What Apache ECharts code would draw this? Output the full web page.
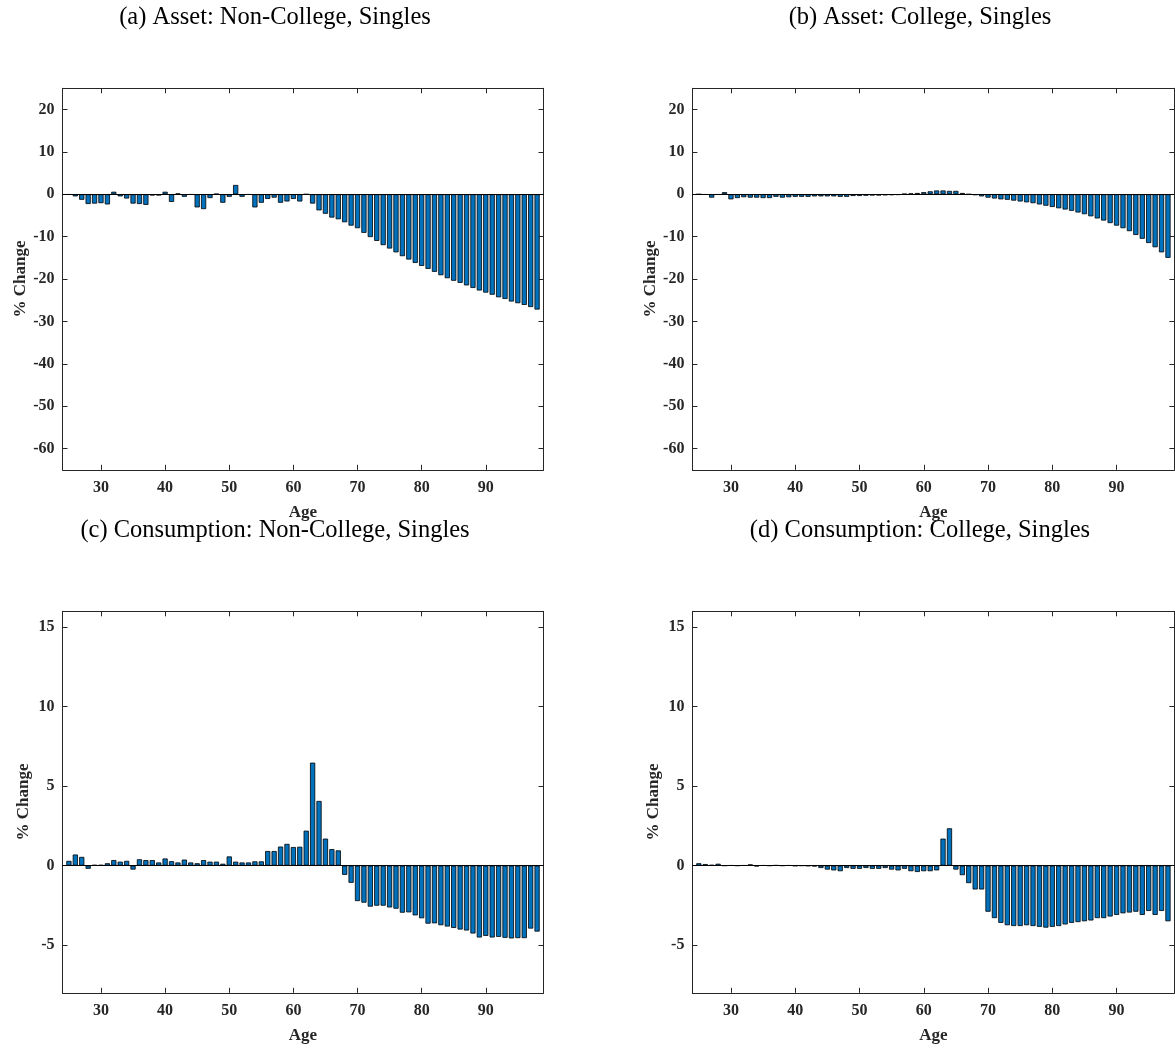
<!DOCTYPE html>
<html>
<head>
<meta charset="utf-8">
<script src="https://cdn.jsdelivr.net/npm/echarts@6/dist/echarts.min.js"></script>
<style>
  html, body { margin: 0; padding: 0; background: #fff; }
  #chart { width: 1175px; height: 1048px; }
</style>
</head>
<body>
<div id="chart"></div>
<script>
// Age of the household head (one bar per year of age)
const ages = [25, 26, 27, 28, 29, 30, 31, 32, 33, 34, 35, 36, 37, 38, 39, 40, 41, 42, 43, 44,
              45, 46, 47, 48, 49, 50, 51, 52, 53, 54, 55, 56, 57, 58, 59, 60, 61, 62, 63, 64,
              65, 66, 67, 68, 69, 70, 71, 72, 73, 74, 75, 76, 77, 78, 79, 80, 81, 82, 83, 84,
              85, 86, 87, 88, 89, 90, 91, 92, 93, 94, 95, 96, 97, 98];

// % change in assets, non-college singles
const assetNonCollege = [-0.1, -0.5, -1.3, -2.3, -2.2, -2.1, -2.4, 0.6, -0.5, -1.0,
  -2.2, -2.3, -2.5, -0.3, -0.3, 0.6, -1.8, 0.2, -0.6, -0.1,
  -3.1, -3.5, -0.9, 0.1, -2.0, -0.6, 2.2, -0.6, -0.1, -3.1,
  -2.0, -1.1, -0.8, -2.0, -1.7, -1.1, -1.7, 0.0, -2.2, -3.8,
  -4.6, -5.5, -5.9, -6.6, -7.4, -8.0, -9.1, -10.1, -11.0, -12.0,
  -12.8, -13.7, -14.6, -15.4, -16.2, -16.9, -17.6, -18.3, -19.1, -19.8,
  -20.4, -20.9, -21.5, -22.1, -22.7, -23.2, -23.7, -24.3, -24.7, -25.3,
  -25.7, -26.1, -26.6, -27.2];

// % change in assets, college singles
const assetCollege = [0.0, -0.1, -0.8, -0.1, 0.5, -1.2, -0.9, -0.7, -0.8, -0.8,
  -0.9, -0.9, -0.6, -0.8, -0.7, -0.6, -0.6, -0.6, -0.5, -0.5,
  -0.5, -0.5, -0.6, -0.6, -0.4, -0.4, -0.35, -0.3, -0.3, -0.25,
  -0.2, -0.15, 0.1, 0.2, 0.3, 0.5, 0.7, 0.9, 0.9, 0.8,
  0.8, 0.3, 0.0, -0.2, -0.5, -0.8, -1.0, -1.2, -1.3, -1.5,
  -1.7, -1.9, -2.1, -2.4, -2.7, -3.0, -3.3, -3.6, -3.9, -4.3,
  -4.7, -5.2, -5.7, -6.2, -6.8, -7.4, -8.0, -8.7, -9.6, -10.5,
  -11.5, -12.5, -13.7, -15.0];

// % change in consumption, non-college singles
const consNonCollege = [0.3, 0.7, 0.55, -0.2, 0.05, 0.05, 0.15, 0.35, 0.25, 0.3,
  -0.25, 0.4, 0.35, 0.35, 0.2, 0.45, 0.28, 0.2, 0.38, 0.2,
  0.15, 0.35, 0.25, 0.25, 0.12, 0.58, 0.25, 0.2, 0.2, 0.27,
  0.27, 0.92, 0.92, 1.2, 1.37, 1.17, 1.19, 2.2, 6.48, 4.07,
  1.7, 1.04, 0.96, -0.58, -1.08, -2.23, -2.33, -2.58, -2.52, -2.52,
  -2.63, -2.71, -2.96, -2.94, -3.13, -3.31, -3.65, -3.63, -3.75, -3.83,
  -3.92, -4.02, -4.08, -4.27, -4.52, -4.42, -4.52, -4.48, -4.54, -4.58,
  -4.56, -4.56, -3.96, -4.15];

// % change in consumption, college singles
const consCollege = [0.15, 0.1, 0.05, 0.12, 0.0, 0.02, 0.0, 0.02, 0.08, -0.05,
  0.02, 0.0, 0.03, 0.0, 0.02, -0.02, 0.0, -0.02, -0.05, -0.15,
  -0.25, -0.3, -0.35, -0.15, -0.2, -0.2, -0.15, -0.2, -0.2, -0.15,
  -0.25, -0.3, -0.2, -0.35, -0.4, -0.35, -0.35, -0.3, 1.7, 2.35,
  -0.25, -0.6, -1.1, -1.5, -1.5, -2.9, -3.3, -3.6, -3.75, -3.8,
  -3.8, -3.75, -3.8, -3.85, -3.9, -3.85, -3.8, -3.7, -3.6, -3.55,
  -3.5, -3.45, -3.3, -3.3, -3.2, -3.1, -3.0, -2.95, -2.9, -3.1,
  -2.85, -3.1, -2.85, -3.5];

// Axis ticks
const ageTicks = [30, 40, 50, 60, 70, 80, 90];
const assetTicks = [-60, -50, -40, -30, -20, -10, 0, 10, 20];
const consTicks = [-5, 0, 5, 10, 15];

const panelTitles = [
  '(a) Asset: Non-College, Singles',
  '(b) Asset: College, Singles',
  '(c) Consumption: Non-College, Singles',
  '(d) Consumption: College, Singles'
];

const SERIF = '"Liberation Serif", "Times New Roman", Times, serif';
const AXIS_COLOR = '#262626';

// Panel frames: [left, top, width, height]
const frames = [
  [62.5, 88.3, 481, 381.5],
  [692.4, 88.3, 482, 381.5],
  [62.5, 611.3, 481, 381.5],
  [692.4, 611.3, 482, 381.5]
];
// Caption centres [x, y] (each caption is centred over its whole sub-figure)
const captionPos = [[275, 18], [920, 18], [275, 531], [920, 531]];

const panels = [
  { values: assetNonCollege, yMin: -65, yMax: 25, yTicks: assetTicks },
  { values: assetCollege,    yMin: -65, yMax: 25, yTicks: assetTicks },
  { values: consNonCollege,  yMin: -8,  yMax: 16, yTicks: consTicks },
  { values: consCollege,     yMin: -8,  yMax: 16, yTicks: consTicks }
];

const grid = [], xAxis = [], yAxis = [], series = [], graphic = [];

panels.forEach((p, i) => {
  const [l, t, w, h] = frames[i];
  grid.push({ left: l, top: t, width: w, height: h, containLabel: false });

  const xBase = {
    type: 'value', gridIndex: i, min: 24, max: 99,
    splitLine: { show: false },
    axisLine: { show: true, onZero: false, lineStyle: { color: AXIS_COLOR, width: 1 } },
    axisTick: { show: true, inside: true, length: 5, customValues: ageTicks,
                lineStyle: { color: AXIS_COLOR, width: 1 } }
  };
  // bottom axis with labels
  xAxis.push(Object.assign({}, xBase, {
    position: 'bottom',
    name: 'Age', nameLocation: 'middle', nameGap: 34,
    nameTextStyle: { fontFamily: SERIF, fontWeight: 'bold', fontSize: 17, color: AXIS_COLOR },
    axisLabel: { show: true, customValues: ageTicks, margin: 10,
                 fontFamily: SERIF, fontWeight: 'bold', fontSize: 16, color: AXIS_COLOR }
  }));
  // top axis closing the box
  xAxis.push(Object.assign({}, xBase, { position: 'top', axisLabel: { show: false } }));

  const yBase = {
    type: 'value', gridIndex: i, min: p.yMin, max: p.yMax,
    splitLine: { show: false },
    axisLine: { show: true, onZero: false, lineStyle: { color: AXIS_COLOR, width: 1 } },
    axisTick: { show: true, inside: true, length: 5, customValues: p.yTicks,
                lineStyle: { color: AXIS_COLOR, width: 1 } }
  };
  yAxis.push(Object.assign({}, yBase, {
    position: 'left',
    name: '% Change', nameLocation: 'middle', nameGap: 30,
    nameTextStyle: { fontFamily: SERIF, fontWeight: 'bold', fontSize: 17, color: AXIS_COLOR },
    axisLabel: { show: true, customValues: p.yTicks, margin: 8,
                 fontFamily: SERIF, fontWeight: 'bold', fontSize: 16, color: AXIS_COLOR }
  }));
  yAxis.push(Object.assign({}, yBase, { position: 'right', axisLabel: { show: false } }));

  series.push({
    type: 'bar',
    xAxisIndex: 2 * i,
    yAxisIndex: 2 * i,
    data: ages.map((a, k) => [a, p.values[k]]),
    barWidth: 5.2,
    itemStyle: { color: '#0072BD', borderColor: '#000', borderWidth: 0.8 },
    emphasis: { disabled: true },
    silent: true,
    animation: false,
    markLine: {
      silent: true, symbol: 'none', animation: false,
      label: { show: false },
      lineStyle: { color: '#000', width: 1, type: 'solid' },
      data: [{ yAxis: 0 }]
    }
  });

  graphic.push({
    type: 'text',
    x: captionPos[i][0],
    y: captionPos[i][1],
    style: {
      text: panelTitles[i],
      font: '24.5px ' + SERIF,
      fill: '#000',
      textAlign: 'center',
      textVerticalAlign: 'middle'
    }
  });
});

const chart = echarts.init(document.getElementById('chart'), null, { renderer: 'canvas' });
chart.setOption({
  animation: false,
  backgroundColor: '#fff',
  grid, xAxis, yAxis, series, graphic
});
</script>
</body>
</html>
